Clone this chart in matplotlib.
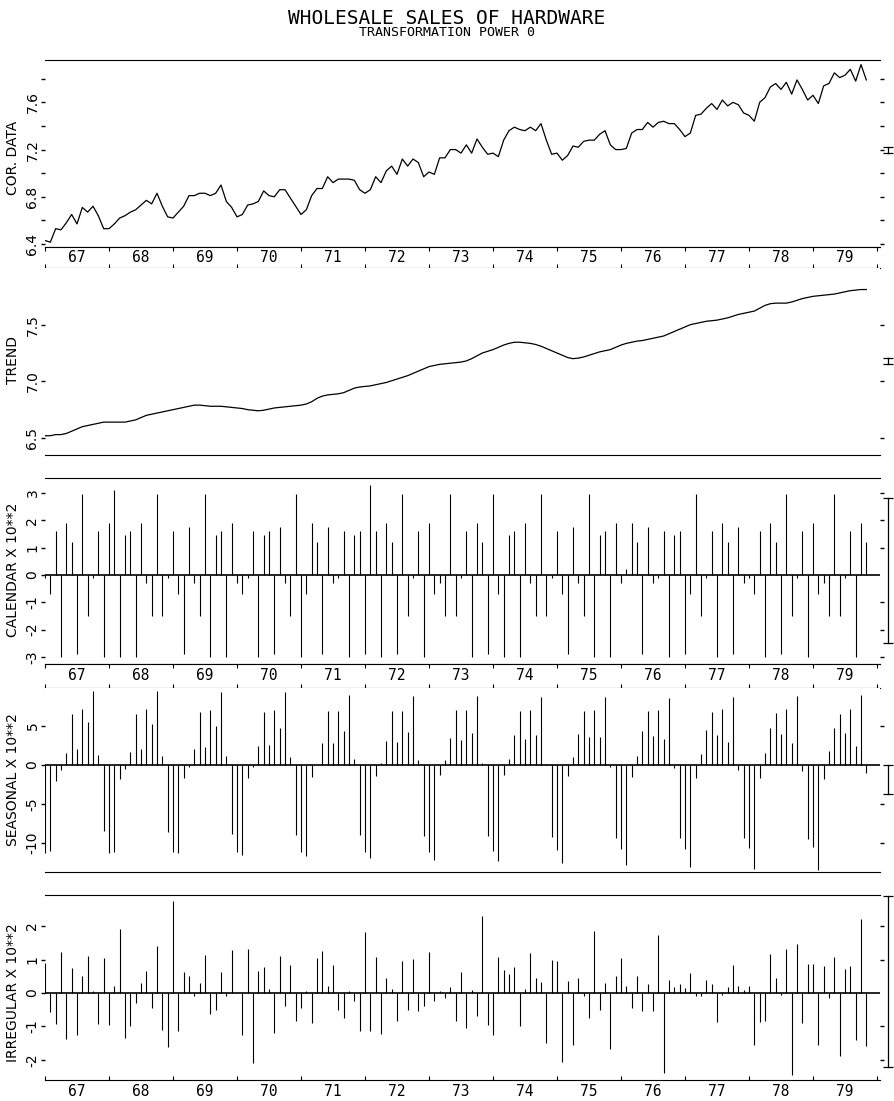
import matplotlib
matplotlib.use("Agg")
import matplotlib.pyplot as plt
from matplotlib.transforms import blended_transform_factory
import numpy as np

plt.rcParams['axes.unicode_minus'] = False

W, H = 894, 1101

years = ["67", "68", "69", "70", "71", "72", "73", "74", "75", "76", "77", "78", "79"]

# monthly values, Jan 1967 - Nov 1979 (one year per line)
cor_data = [
    6.43, 6.415, 6.53, 6.52, 6.58, 6.65, 6.57, 6.71, 6.67, 6.72, 6.64, 6.53,
    6.53, 6.57, 6.62, 6.64, 6.67, 6.69, 6.73, 6.77, 6.74, 6.83, 6.72, 6.63,
    6.62, 6.67, 6.72, 6.81, 6.81, 6.83, 6.83, 6.81, 6.83, 6.90, 6.76, 6.71,
    6.63, 6.65, 6.73, 6.74, 6.76, 6.85, 6.81, 6.80, 6.86, 6.86, 6.79, 6.72,
    6.65, 6.69, 6.81, 6.87, 6.87, 6.97, 6.92, 6.95, 6.95, 6.95, 6.94, 6.86,
    6.83, 6.86, 6.97, 6.92, 7.02, 7.06, 6.99, 7.12, 7.06, 7.12, 7.09, 6.97,
    7.01, 6.99, 7.13, 7.13, 7.20, 7.20, 7.17, 7.24, 7.17, 7.29, 7.22, 7.16,
    7.17, 7.14, 7.28, 7.36, 7.39, 7.37, 7.36, 7.39, 7.36, 7.42, 7.28, 7.16,
    7.17, 7.11, 7.15, 7.23, 7.22, 7.27, 7.28, 7.28, 7.33, 7.36, 7.24, 7.20,
    7.20, 7.21, 7.34, 7.37, 7.37, 7.43, 7.39, 7.43, 7.44, 7.42, 7.42, 7.37,
    7.31, 7.34, 7.49, 7.50, 7.55, 7.59, 7.54, 7.62, 7.57, 7.60, 7.58, 7.51,
    7.49, 7.44, 7.60, 7.64, 7.73, 7.76, 7.71, 7.77, 7.67, 7.79, 7.71, 7.62,
    7.66, 7.59, 7.74, 7.76, 7.85, 7.81, 7.83, 7.88, 7.78, 7.92, 7.79,
]

trend = [
    6.52, 6.52, 6.53, 6.53, 6.54, 6.56, 6.58, 6.60, 6.61, 6.62, 6.63, 6.64,
    6.64, 6.64, 6.64, 6.64, 6.65, 6.66, 6.68, 6.70, 6.71, 6.72, 6.73, 6.74,
    6.75, 6.76, 6.77, 6.78, 6.79, 6.79, 6.785, 6.78, 6.78, 6.78, 6.775, 6.77,
    6.765, 6.76, 6.75, 6.745, 6.74, 6.745, 6.755, 6.765, 6.77, 6.775, 6.78, 6.785,
    6.79, 6.80, 6.82, 6.85, 6.87, 6.88, 6.885, 6.89, 6.90, 6.92, 6.94, 6.95,
    6.955, 6.96, 6.97, 6.98, 6.99, 7.005, 7.02, 7.035, 7.05, 7.07, 7.09, 7.11,
    7.13, 7.14, 7.15, 7.155, 7.16, 7.165, 7.17, 7.18, 7.20, 7.225, 7.25, 7.265,
    7.28, 7.30, 7.32, 7.335, 7.345, 7.345, 7.34, 7.335, 7.325, 7.31, 7.29, 7.27,
    7.25, 7.23, 7.21, 7.20, 7.205, 7.215, 7.23, 7.245, 7.26, 7.27, 7.28, 7.30,
    7.32, 7.335, 7.345, 7.355, 7.36, 7.37, 7.38, 7.39, 7.40, 7.42, 7.44, 7.46,
    7.48, 7.50, 7.51, 7.52, 7.53, 7.535, 7.54, 7.55, 7.56, 7.575, 7.59, 7.60,
    7.61, 7.62, 7.645, 7.67, 7.685, 7.69, 7.69, 7.69, 7.70, 7.715, 7.73, 7.74,
    7.75, 7.755, 7.76, 7.765, 7.77, 7.78, 7.79, 7.80, 7.805, 7.81, 7.81,
]

calendar = [
    -0.1, -0.7, 1.6, -3.0, 1.9, 1.2, -2.9, 2.95, -1.5, -0.1, 1.6, -3.0,
    1.9, 3.1, -3.0, 1.45, 1.6, -3.0, 1.9, -0.3, -1.5, 2.95, -1.5, -0.1,
    1.6, -0.7, -2.9, 1.75, -0.3, -1.5, 2.95, -3.0, 1.45, 1.6, -3.0, 1.9,
    -0.3, -0.7, -0.1, 1.6, -3.0, 1.45, 1.6, -2.9, 1.75, -0.3, -1.5, 2.95,
    -3.0, -0.7, 1.9, 1.2, -2.9, 1.75, -0.3, -0.1, 1.6, -3.0, 1.45, 1.6,
    -2.9, 3.3, 1.6, -3.0, 1.9, 1.2, -2.9, 2.95, -1.5, -0.1, 1.6, -3.0,
    1.9, -0.7, -0.3, -1.5, 2.95, -1.5, -0.1, 1.6, -3.0, 1.9, 1.2, -2.9,
    2.95, -0.7, -3.0, 1.45, 1.6, -3.0, 1.9, -0.3, -1.5, 2.95, -1.5, -0.1,
    1.6, -0.7, -2.9, 1.75, -0.3, -1.5, 2.95, -3.0, 1.45, 1.6, -3.0, 1.9,
    -0.3, 0.2, 1.9, 1.2, -2.9, 1.75, -0.3, -0.1, 1.6, -3.0, 1.45, 1.6,
    -2.9, -0.7, 2.95, -1.5, -0.1, 1.6, -3.0, 1.9, 1.2, -2.9, 1.75, -0.3,
    -0.1, -0.7, 1.6, -3.0, 1.9, 1.2, -2.9, 2.95, -1.5, -0.1, 1.6, -3.0,
    1.9, -0.7, -0.3, -1.5, 2.95, -1.5, -0.1, 1.6, -3.0, 1.9, 1.2,
]

seasonal = [
    -11.3, -11.0, -2.0, -0.6, 1.5, 6.5, 2.0, 7.2, 5.5, 9.5, 1.3, -8.5,
    -11.3, -11.2, -1.8, -0.5, 1.7, 6.5, 2.1, 7.2, 5.3, 9.5, 1.2, -8.6,
    -11.2, -11.3, -1.7, -0.3, 2.1, 6.8, 2.3, 7.1, 5.0, 9.3, 1.1, -8.8,
    -11.2, -11.5, -1.6, -0.2, 2.5, 6.8, 2.6, 7.0, 4.7, 9.3, 1.0, -9.0,
    -11.2, -11.7, -1.5, 0.0, 2.8, 6.9, 2.8, 6.9, 4.4, 9.0, 0.8, -9.0,
    -11.2, -11.9, -1.4, 0.3, 3.1, 6.9, 3.0, 6.9, 4.2, 8.9, 0.6, -9.1,
    -11.1, -12.1, -1.3, 0.6, 3.5, 7.0, 3.2, 7.0, 4.1, 8.8, 0.3, -9.1,
    -11.0, -12.3, -1.3, 0.8, 3.8, 6.9, 3.4, 7.0, 3.9, 8.7, 0.1, -9.2,
    -10.9, -12.5, -1.4, 1.0, 4.0, 6.9, 3.6, 7.1, 3.6, 8.7, -0.2, -9.3,
    -10.8, -12.8, -1.5, 1.2, 4.3, 6.9, 3.7, 7.1, 3.3, 8.6, -0.4, -9.4,
    -10.7, -13.1, -1.6, 1.4, 4.5, 6.8, 3.9, 7.2, 3.0, 8.7, -0.6, -9.4,
    -10.6, -13.3, -1.7, 1.6, 4.7, 6.7, 4.0, 7.2, 2.8, 8.8, -0.8, -9.5,
    -10.5, -13.5, -1.8, 1.8, 4.8, 6.5, 4.1, 7.2, 2.5, 9.0, -1.0,
]

irregular = [
    0.9, -0.57, -0.93, 1.24, -1.37, 0.76, -1.25, 0.5, 1.1, 0.05, -0.93, 1.05,
    -0.96, 0.22, 1.9, -1.35, -1.0, -0.3, 0.3, 0.65, -0.45, 1.4, -1.1, -1.6,
    2.75, -1.15, 0.63, 0.5, -0.1, 0.3, 1.14, -0.63, -0.5, 0.63, -0.08, 1.3,
    0.0, -1.25, 1.33, -2.1, 0.65, 0.78, 0.12, -1.2, 1.1, -0.4, 0.85, -0.85,
    -0.45, 0.05, -0.9, 1.05, 1.25, 0.2, 0.85, -0.5, -0.75, 0.05, -0.25, -1.15,
    1.82, -1.15, 1.07, -1.22, 0.45, 0.12, -0.85, 0.95, -0.5, 1.03, -0.55, -0.4,
    1.22, -0.25, 0.05, -0.15, 0.18, -0.85, 0.62, -1.05, 0.1, -0.7, 2.3, -0.95,
    -1.25, 1.07, 0.68, 0.58, 0.78, -0.98, 0.12, 1.2, 0.45, 0.32, -1.5, 1.0,
    0.95, -2.05, 0.35, -1.55, 0.45, -0.1, -0.75, 1.85, -0.5, 0.3, -1.68, 0.5,
    1.05, 0.22, -0.45, 0.52, -0.55, 0.28, -0.55, 1.72, -2.38, 0.4, 0.18, 0.28,
    0.15, 0.6, -0.1, -0.1, 0.4, 0.28, -0.88, -0.05, 0.18, 0.85, 0.2, 0.1,
    0.2, -1.55, -0.88, -0.85, 1.18, 0.45, -0.05, 1.32, -2.45, 1.47, -0.9, 0.88,
    0.88, -1.55, 0.82, -0.15, 1.08, -1.88, 0.72, 0.82, -1.4, 2.2, -1.57,
]

months = np.arange(len(cor_data))

X0, X1 = 45, 880            # plotting strip, pixels
PX_MONTH = 64 / 12          # one month in pixels
XMAX = (X1 - X0) / PX_MONTH
MONO = 'DejaVu Sans Mono'
SANS = 'DejaVu Sans'


def rect(top, bottom):
    return [X0 / W, 1 - bottom / H, (X1 - X0) / W, (bottom - top) / H]


fig = plt.figure(figsize=(W / 100, H / 100), dpi=100)
fig.text(0.5, 1 - 18 / H, 'WHOLESALE SALES OF HARDWARE', ha='center', va='center',
         family=MONO, fontsize=14)
fig.text(0.5, 1 - 33 / H, 'TRANSFORMATION POWER 0', ha='center', va='center',
         family=MONO, fontsize=9.5)


def panel(top, bottom, ylim, ticks, labels, right_ticks, bar, top_line=True):
    ax = fig.add_axes(rect(top, bottom))
    ax.set_xlim(0, XMAX)
    ax.set_ylim(*ylim)
    ax.spines['left'].set_visible(False)
    ax.spines['right'].set_visible(False)
    ax.spines['top'].set_visible(top_line)
    ax.set_xticks([])
    ax.set_yticks(ticks)
    ax.set_yticklabels(labels, rotation=90, va='center', ha='right', family=SANS, fontsize=10)
    ax.tick_params(axis='y', direction='out', length=3, width=1, pad=1)
    sec = ax.secondary_yaxis('right')
    sec.spines['right'].set_visible(False)
    sec.set_yticks(right_ticks)
    sec.tick_params(axis='y', direction='out', length=3, width=1, labelright=False)
    # scale bar at the right margin
    tr = blended_transform_factory(ax.transAxes, ax.transData)
    xb = (888 - X0) / (X1 - X0)
    ax.plot([xb, xb], bar, transform=tr, color='k', lw=0.9, clip_on=False)
    ax.plot([xb, xb], bar, transform=tr, ls='none', marker='_', ms=7, mew=0.9,
            color='k', clip_on=False)
    return ax


def year_band(top, bottom):
    b = fig.add_axes(rect(top, bottom))
    b.set_xlim(0, XMAX)
    b.set_ylim(0, 1)
    b.spines['left'].set_visible(False)
    b.spines['right'].set_visible(False)
    b.set_yticks([])
    b.set_xticks(np.arange(0, 157, 12))
    b.tick_params(axis='x', direction='in', top=True, bottom=True, length=3, labelbottom=False)
    for i, y in enumerate(years):
        b.text(12 * i + 6, 0.5, y, ha='center', va='center', family=MONO, fontsize=10.5)
    return b


# corrected data
ax1 = panel(60, 247, (6.3746, 7.959), np.arange(6.4, 7.81, 0.2),
            ['6.4', '', '6.8', '', '7.2', '', '7.6', ''],
            np.arange(6.4, 7.81, 0.2), [7.175, 7.225])
ax1.plot(months, cor_data, color='k', lw=0.9)
year_band(247, 268)

# trend
ax2 = panel(268, 455, (6.35, 8.0), [6.5, 7.0, 7.5], ['6.5', '7.0', '7.5'],
            [6.5, 7.0, 7.5], [7.155, 7.205], top_line=False)
ax2.plot(months, trend, color='k', lw=0.9)

# calendar
ax3 = panel(478, 664, (-3.26, 3.55), [-3, -2, -1, 0, 1, 2, 3],
            ['-3', '-2', '-1', '0', '1', '2', '3'], [-3, -2, -1, 1, 2, 3], [-2.5, 2.8])
ax3.vlines(months, 0, calendar, color='k', lw=0.8)
ax3.axhline(0, color='k', lw=1.2)
year_band(664, 688)

# seasonal
ax4 = panel(688, 872, (-13.7, 9.87), [-10, -5, 0, 5], ['-10', '-5', '0', '5'],
            [-10, -5, 5], [-3.7, 0], top_line=False)
ax4.vlines(months, 0, seasonal, color='k', lw=0.8)
ax4.axhline(0, color='k', lw=1.2)

# irregular
ax5 = panel(895, 1080, (-2.6, 2.93), [-2, -1, 0, 1, 2], ['-2', '-1', '0', '1', '2'],
            [-2, -1, 1, 2], [-2.2, 2.9])
ax5.vlines(months, 0, irregular, color='k', lw=0.8)
ax5.axhline(0, color='k', lw=1.2)
ax5.set_xticks(np.arange(0, 157, 12))
ax5.tick_params(axis='x', direction='in', length=3, labelbottom=False)
tr5 = blended_transform_factory(ax5.transData, ax5.transAxes)
for i, y in enumerate(years):
    ax5.text(12 * i + 6, -12 / 185, y, transform=tr5, ha='center', va='center',
             family=MONO, fontsize=10.5)

# axis titles at the left margin
for text, yc in [('COR. DATA', 158), ('TREND', 360), ('CALENDAR X 10**2', 570),
                 ('SEASONAL X 10**2', 780), ('IRREGULAR X 10**2', 993)]:
    fig.text(13 / W, 1 - yc / H, text, rotation=90, ha='center', va='center',
             family=SANS, fontsize=10)

fig.savefig('out.png', dpi=100)
